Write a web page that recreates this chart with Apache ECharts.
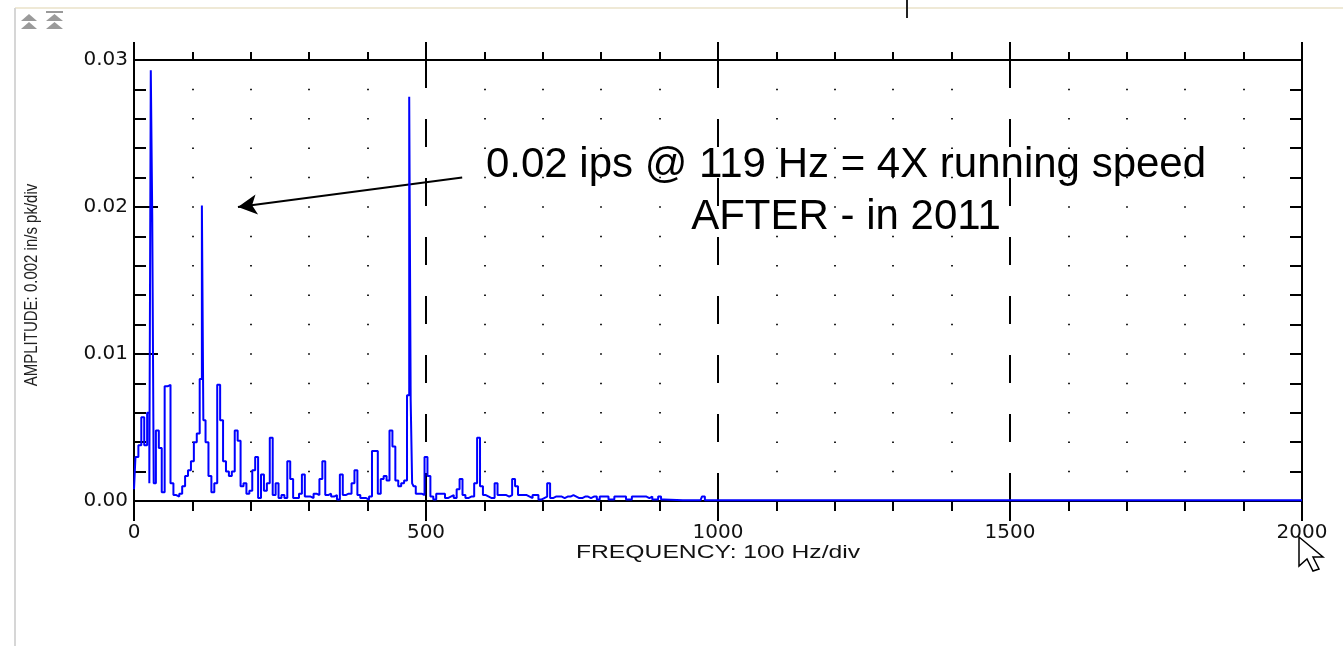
<!DOCTYPE html>
<html>
<head>
<meta charset="utf-8">
<script src="https://cdn.jsdelivr.net/npm/echarts@6/dist/echarts.min.js"></script>
<style>
html,body{margin:0;padding:0;background:#fff;}
#c{width:1343px;height:646px;}
</style>
</head>
<body>
<div id="c"></div>
<script>
// ---- data ----
const freqHz = [
  0,5,10,15,20,25,27.5,30,32.5,35,
  40,45,50,55,60,65,70,75,80,85,
  90,95,100,105,110,115,117.5,120,125,130,
  135,140,145,150,155,160,165,170,175,180,
  185,190,195,200,205,210,215,220,225,230,
  235,240,245,250,255,260,265,270,275,280,
  285,290,295,300,305,310,315,320,325,330,
  335,340,345,350,355,360,365,370,375,380,
  385,390,395,400,405,410,415,420,425,430,
  435,440,445,450,455,460,465,470,472.5,475,
  477.5,480,485,490,495,500,505,510,515,520,
  525,530,535,540,545,550,555,560,565,570,
  575,580,585,590,595,600,605,610,615,620,
  625,630,635,640,645,650,655,660,665,670,
  675,680,685,690,695,700,705,710,715,720,
  725,730,735,740,745,750,755,760,765,770,
  775,780,785,790,795,800,805,810,815,820,
  825,830,835,840,845,850,855,860,865,870,
  875,880,885,890,895,900,905,910,970,975,
  980,2000
];
const ampIps = [
  0.0008,0.0030,0.0038,0.0057,0.0038,0.0060,0.0012,0.0293,0.0193,0.0012,
  0.0048,0.0036,0.0006,0.0078,0.0079,0.0012,0.0004,0.0003,0.0005,0.0010,
  0.0017,0.0021,0.0027,0.0040,0.0046,0.0083,0.0201,0.0055,0.0040,0.0017,
  0.0006,0.0012,0.0079,0.0055,0.0027,0.0020,0.0017,0.0020,0.0048,0.0041,
  0.0010,0.0012,0.0005,0.0007,0.0021,0.0030,0.0002,0.0018,0.0007,0.0012,
  0.0043,0.0004,0.0012,0.0002,0.0004,0.0002,0.0027,0.0015,0.0002,0.0002,
  0.0005,0.0018,0.0003,0.0003,0.0002,0.0005,0.0004,0.0015,0.0027,0.0004,
  0.0005,0.0003,0.0004,0.0001,0.0018,0.0004,0.0005,0.0005,0.0012,0.0021,
  0.0004,0.0002,0.0002,0.0001,0.0003,0.0034,0.0034,0.0005,0.0015,0.0017,
  0.0014,0.0048,0.0037,0.0014,0.0010,0.0012,0.0014,0.0072,0.0275,0.0069,
  0.0012,0.0010,0.0005,0.0005,0.0004,0.0030,0.0017,0.0003,0.0001,0.0005,
  0.0005,0.0005,0.0002,0.0003,0.0004,0.0002,0.0008,0.0015,0.0004,0.0002,
  0.0003,0.0003,0.0012,0.0043,0.0010,0.0004,0.0003,0.0002,0.0002,0.0012,
  0.0004,0.0004,0.0004,0.0003,0.0004,0.0015,0.0010,0.0004,0.0004,0.0004,
  0.0003,0.0002,0.0004,0.0004,0.0001,0.0002,0.0003,0.0012,0.0002,0.0003,
  0.0003,0.0003,0.0002,0.0003,0.0003,0.0004,0.0003,0.0002,0.0002,0.0003,
  0.0003,0.0002,0.0003,0.0003,0.0001,0.0003,0.0003,0.0003,0.0001,0.0001,
  0.0003,0.0003,0.0003,0.0003,0.0001,0.0001,0.0003,0.0003,0.0003,0.0003,
  0.0003,0.0002,0.0003,0.0001,0.0001,0.0003,0.0001,0.00005,0.00005,0.0003,
  0.00005,0.00005
];
const xRange = [0, 2000];      // Hz
const xMajorStep = 500;        // labelled ticks 0,500,...,2000
const yRange = [0, 0.03];      // in/s pk
const yMajorStep = 0.01;       // labelled ticks 0.00 ... 0.03
const xTitle = 'FREQUENCY: 100 Hz/div';
const yTitle = 'AMPLITUDE: 0.002 in/s pk/div';
const noteLines = ['0.02 ips @ 119 Hz = 4X running speed', 'AFTER - in 2011'];
const arrowTail = [562, 0.0220];   // data coords of arrow start
const arrowHead = [178, 0.0200];   // data coords of arrow tip

const seriesData = freqHz.map((f, i) => [f, ampIps[i]]);

const chart = echarts.init(document.getElementById('c'), null, {renderer: 'canvas'});
const INK = '#000';
const tickFont = 'DejaVu Sans';

const option = {
  animation: false,
  backgroundColor: '#fff',
  grid: {left: 134, right: 41, top: 60, bottom: 145, containLabel: false},
  xAxis: [
    {
      type: 'value', position: 'bottom', min: xRange[0], max: xRange[1], interval: xMajorStep,
      axisLine: {show: true, onZero: false, lineStyle: {color: INK, width: 2}},
      axisTick: {show: true, inside: false, length: 20, lineStyle: {color: INK, width: 2}},
      minorTick: {show: true, splitNumber: 5, length: 10, lineStyle: {color: INK, width: 2}},
      axisLabel: {margin: 22, fontFamily: tickFont, fontSize: 20, color: '#111',
                  formatter: v => String(v)},
      splitLine: {show: true, showMinLine: false, showMaxLine: false,
                  lineStyle: {color: INK, width: 2, type: [28, 31]}},
      minorSplitLine: {show: true, lineStyle: {color: '#222', width: 2, type: [1.5, 27.9], dashOffset: 0.75}}
    },
    {
      type: 'value', position: 'top', min: xRange[0], max: xRange[1], interval: xMajorStep,
      axisLine: {show: true, onZero: false, lineStyle: {color: INK, width: 2}},
      axisTick: {show: true, inside: false, length: 18, lineStyle: {color: INK, width: 2}},
      minorTick: {show: true, splitNumber: 5, length: 8, lineStyle: {color: INK, width: 2}},
      axisLabel: {show: false},
      splitLine: {show: false}
    }
  ],
  yAxis: [
    {
      type: 'value', position: 'left', min: yRange[0], max: yRange[1], interval: yMajorStep,
      axisLine: {show: true, onZero: false, lineStyle: {color: INK, width: 2}},
      axisTick: {show: true, inside: true, length: 24, lineStyle: {color: INK, width: 2}},
      minorTick: {show: true, splitNumber: 5, length: 12, lineStyle: {color: INK, width: 2}},
      axisLabel: {margin: 6, fontFamily: tickFont, fontSize: 20, color: '#111',
                  formatter: v => v.toFixed(2)},
      splitLine: {show: false}
    },
    {
      type: 'value', position: 'right', min: yRange[0], max: yRange[1], interval: yMajorStep,
      axisLine: {show: true, onZero: false, lineStyle: {color: INK, width: 2}},
      axisTick: {show: true, inside: true, length: 12, lineStyle: {color: INK, width: 2}},
      minorTick: {show: true, splitNumber: 5, length: 12, lineStyle: {color: INK, width: 2}},
      axisLabel: {show: false},
      splitLine: {show: false}
    }
  ],
  series: [
    {
      type: 'line', xAxisIndex: 0, yAxisIndex: 0, step: 'middle',
      data: seriesData, showSymbol: false, symbol: 'none', z: 5,
      lineStyle: {color: '#0000ff', width: 2},
      markLine: {
        silent: true, symbol: ['none', 'arrow'], symbolSize: [15, 19],
        label: {show: false},
        lineStyle: {color: INK, width: 2, type: 'solid'},
        data: [[{coord: arrowTail}, {coord: arrowHead}]]
      }
    }
  ],
  graphic: [
    // window frame decorations
    {type: 'line', shape: {x1: 15, y1: 8, x2: 1343, y2: 8}, style: {stroke: '#efe9d6', lineWidth: 2}, silent: true},
    {type: 'line', shape: {x1: 15, y1: 8, x2: 15, y2: 646}, style: {stroke: '#d6d6d6', lineWidth: 2}, silent: true},
    {type: 'line', shape: {x1: 907, y1: 0, x2: 907, y2: 18}, style: {stroke: '#222', lineWidth: 2}, silent: true},
    {type: 'polygon', shape: {points: [[21,21],[29,14],[37,21]]}, style: {fill: '#9a9a9a'}, silent: true},
    {type: 'polygon', shape: {points: [[21,29],[29,22],[37,29]]}, style: {fill: '#9a9a9a'}, silent: true},
    {type: 'rect', shape: {x: 46, y: 11, width: 17, height: 2}, style: {fill: '#9a9a9a'}, silent: true},
    {type: 'polygon', shape: {points: [[46,21],[54.5,14],[63,21]]}, style: {fill: '#9a9a9a'}, silent: true},
    {type: 'polygon', shape: {points: [[46,29],[54.5,22],[63,29]]}, style: {fill: '#9a9a9a'}, silent: true},
    // x axis title (the original screenshot is stretched horizontally)
    {type: 'text', x: 718, y: 553, scaleX: 1.3, silent: true,
     style: {text: xTitle, font: '19px "Liberation Sans", Arial, sans-serif', fill: '#111',
             textAlign: 'center', textVerticalAlign: 'middle'}},
    // y axis title (rotated; glyphs stretched across)
    {type: 'text', x: 32, y: 285, rotation: Math.PI / 2, scaleY: 1.25, silent: true,
     style: {text: yTitle, font: '15px "Liberation Sans", Arial, sans-serif', fill: '#222',
             textAlign: 'center', textVerticalAlign: 'middle'}},
    // annotation
    {type: 'text', x: 846, y: 191, silent: true, z: 10,
     style: {text: noteLines.join('\n'), font: '42px "Liberation Sans", Arial, sans-serif', fill: '#000',
             textAlign: 'center', textVerticalAlign: 'middle', lineHeight: 52}},
    // mouse cursor
    {type: 'polygon', z: 20, silent: true,
     shape: {points: [[1299,537],[1299,566],[1307,559],[1313,571],[1319,569],[1313,557],[1323,557]]},
     style: {fill: '#fff', stroke: '#000', lineWidth: 1.5}}
  ]
};
chart.setOption(option);
</script>
</body>
</html>
